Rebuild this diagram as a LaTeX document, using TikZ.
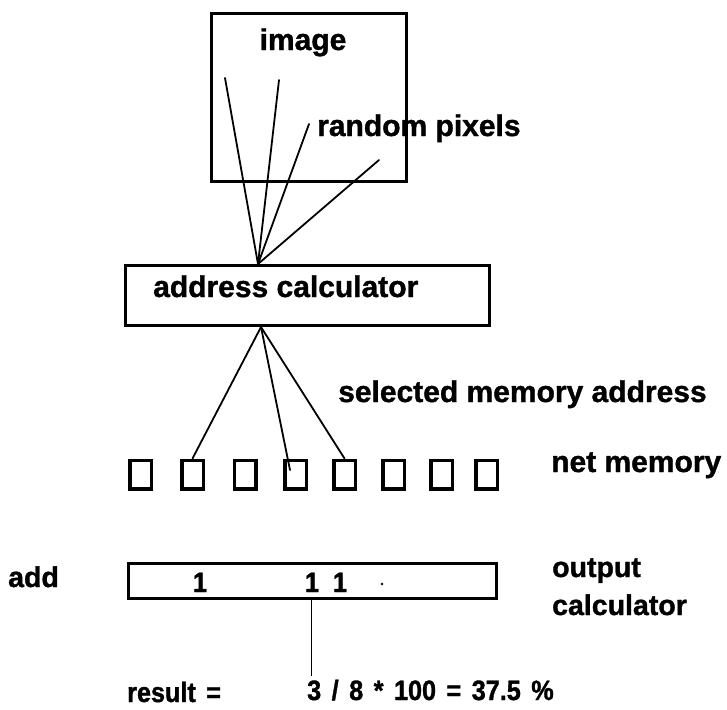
\documentclass[tikz,border=0pt]{standalone}
\usepackage{fontspec}
\setmainfont{Liberation Sans}[BoldFeatures={FakeBold=1.2}]
\newfontfamily\numfont{Liberation Sans}[WordSpace=1.5, FakeStretch=0.9,
  BoldFeatures={FakeBold=1.2}]

\begin{document}
\begin{tikzpicture}[x=1pt, y=-1pt,
  box/.style={draw, line width=3pt, rectangle, inner sep=0pt},
  memcell/.style={draw, line width=3.5pt, rectangle, minimum width=21.5pt,
    minimum height=28.5pt, inner sep=0pt},
  txt/.style={inner sep=0pt, anchor=base west,
    font=\fontsize{30}{35}\selectfont\bfseries},
  sidetxt/.style={txt, font=\fontsize{28.5}{33}\selectfont\bfseries},
  numtxt/.style={inner sep=0pt, anchor=base west,
    font=\numfont\fontsize{28}{32}\selectfont\bfseries},
  wire/.style={line width=1.8pt, line cap=round},
  thinwire/.style={line width=1pt},
]
\useasboundingbox (0,0) rectangle (727,709);

% image with sampled pixels
\node[box, minimum width=195pt, minimum height=168pt] (img) at (309,97.5) {};
\node[txt, anchor=base] (imglbl) at (303,50) {image};
\node[txt] (rp) at (317,136) {random pixels};
\coordinate (px1) at (225,78);
\coordinate (px2) at (279,80);
\coordinate (px3) at (309,124);
\coordinate (px4) at (379,160);

% address calculator
\node[box, minimum width=364pt, minimum height=60pt] (addr) at (307.5,295.5) {};
\node[txt] (addrlbl) at (153,297) {address calculator};
\coordinate (hubin) at (258,264);
\coordinate (hubout) at (261,327);
\foreach \p in {px1,px2,px3,px4}
  \draw[wire] (hubin) -- (\p);

\node[txt] (sel) at (338,402) {selected memory address};

% net memory cells
\foreach \i/\cx in {1/140.5, 2/192.5, 3/245, 4/295.5, 5/344.5, 6/393.5, 7/441.5, 8/486.5}
  \node[memcell] (m\i) at (\cx,474.5) {};
\node[txt] (netlbl) at (551,472) {net memory};
\coordinate (m4in) at (290,470);
\draw[wire] (hubout) -- (m2.north);
\draw[wire] (hubout) -- (m4in);
\draw[wire] (hubout) -- (m5.north);

% output calculator
\node[sidetxt] (addlbl) at (8,587) {add};
\node[box, minimum width=368pt, minimum height=35pt] (out) at (312.5,581) {};
\node[numtxt, anchor=base] (b1) at (200,592) {1};
\node[numtxt, anchor=base] (b2) at (312,592) {1};
\node[numtxt, anchor=base] (b3) at (340,592) {1};
\fill (382,584) circle (1.4pt);
\node[sidetxt] (outlbl) at (552,577) {output};
\node[sidetxt] (calclbl) at (552,615) {calculator};

% result
\coordinate (lineend) at (311,676);
\draw[thinwire] (out.south -| lineend) -- (lineend);
\node[numtxt] (reslbl) at (127,702) {result =};
\node[numtxt] (formula) at (307,700) {3 / 8 * 100 = 37.5 \%};
\end{tikzpicture}
\end{document}
